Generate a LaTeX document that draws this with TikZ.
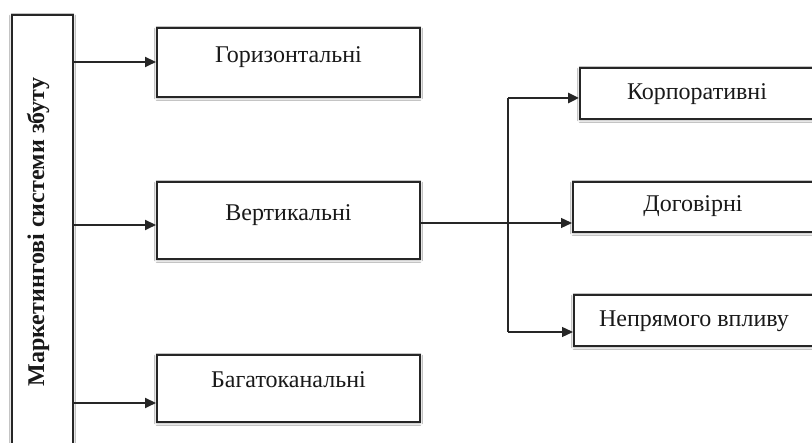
\documentclass[tikz,border=0pt]{standalone}
\usepackage{fontspec}
\setmainfont{Liberation Serif}
\usetikzlibrary{arrows.meta,shadows.blur}
\tikzset{
  box/.style={draw=black!85, line width=2pt, fill=white, inner sep=0pt,
    blur shadow={shadow xshift=0pt, shadow yshift=-1pt, shadow blur radius=2.5pt, shadow opacity=45}},
  lbl/.style={font=\fontsize{24}{28}\selectfont, anchor=base, inner sep=0pt, text=black!90},
  boldlbl/.style={font=\fontsize{24}{28}\selectfont\bfseries, anchor=base, inner sep=0pt, rotate=90, text=black!90},
  heavyarrow/.style={draw=black!85, line width=2pt, -{Triangle[length=11pt,width=10pt]}},
  toparrow/.style={draw=black!85, line width=2.8pt, -{Triangle[length=11pt,width=10pt]}},
  thinline/.style={draw=black!85, line width=1.3pt},
  thinarrow/.style={draw=black!85, line width=1.3pt, -{Triangle[length=11pt,width=10pt]}},
}
\begin{document}
\begin{tikzpicture}[x=1pt,y=1pt]
\useasboundingbox (0,0) rectangle (812,443);
\clip (0,0) rectangle (812,443);
\fill[white] (0,0) rectangle (812,443);

% boxes
\node[box, minimum width=61pt, minimum height=448pt] (L) at (42.5,204) {};
\node[box, minimum width=263pt, minimum height=69pt] (H) at (288.5,380.5) {};
\node[box, minimum width=263pt, minimum height=77pt] (V) at (288.5,222.5) {};
\node[box, minimum width=263pt, minimum height=67pt] (B) at (288.5,54.5) {};
\node[box, minimum width=234pt, minimum height=51pt] (K) at (697,349.5) {};
\node[box, minimum width=240pt, minimum height=50pt] (D) at (693,236) {};
\node[box, minimum width=240pt, minimum height=51pt] (N) at (694,122.5) {};

% texts
\node[boldlbl] (Lt) at (44,211) {Маркетингові системи збуту};
\node[lbl] (Ht) at (288.5,380) {Горизонтальні};
\node[lbl] (Vt) at (288.5,222) {Вертикальні};
\node[lbl] (Bt) at (288.5,55) {Багатоканальні};
\node[lbl] (Kt) at (697,343) {Корпоративні};
\node[lbl] (Dt) at (693,231) {Договірні};
\node[lbl] (Nt) at (694,116) {Непрямого впливу};

% left connectors
\path ([yshift=0.5pt]H.west) coordinate (ha);
\path ([yshift=-4.5pt]V.west) coordinate (va);
\path ([yshift=-14.5pt]B.west) coordinate (ba);
\draw[heavyarrow] (ha -| L.east) -- (ha);
\draw[heavyarrow] (va -| L.east) -- (va);
\draw[heavyarrow] (ba -| L.east) -- (ba);

% right connectors
\path ([yshift=-4.5pt]K.west) coordinate (ka);
\path ([yshift=-16pt]D.west) coordinate (da);
\path ([yshift=-11.5pt]N.west) coordinate (na);
\coordinate (jt) at (508,345);
\coordinate (jb) at (508,111);
\draw[thinline] (jt) -- (jb);
\draw[toparrow] (jt) -- (ka);
\draw[thinarrow] (jb) -- (na);
\draw[thinarrow] (V.east |- da) -- (da);
\end{tikzpicture}
\end{document}
